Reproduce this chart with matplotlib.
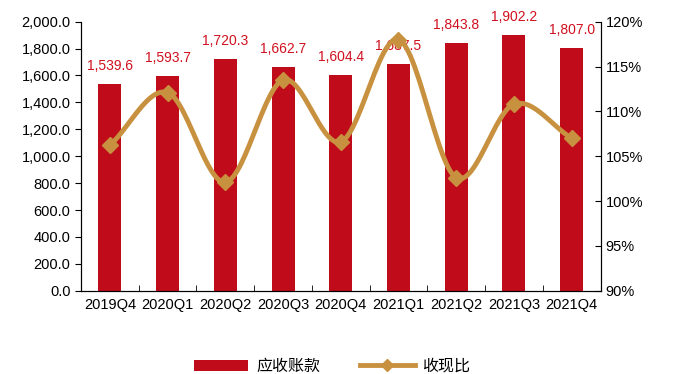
import numpy as np
import matplotlib
matplotlib.use('Agg')
import matplotlib.pyplot as plt
from matplotlib.ticker import FuncFormatter, MultipleLocator

plt.rcParams['font.family'] = ['Liberation Sans', 'Noto Sans CJK SC', 'DejaVu Sans']

quarters = ['2019Q4', '2020Q1', '2020Q2', '2020Q3', '2020Q4',
            '2021Q1', '2021Q2', '2021Q3', '2021Q4']
receivables = [1539.6, 1593.7, 1720.3, 1662.7, 1604.4, 1687.5, 1843.8, 1902.2, 1807.0]
cash_ratio = [106.2, 112.1, 102.1, 113.5, 106.6, 118.0, 102.6, 110.8, 107.0]

bar_color = '#C00C1A'
line_color = '#C8913F'


def smooth(x, y, n=30):
    # catmull-rom curve through the points, like excel's smoothed line
    x = np.asarray(x, float)
    y = np.asarray(y, float)
    px = np.concatenate([[2 * x[0] - x[1]], x, [2 * x[-1] - x[-2]]])
    py = np.concatenate([[2 * y[0] - y[1]], y, [2 * y[-1] - y[-2]]])
    xs, ys = [], []
    t = np.linspace(0, 1, n)
    for i in range(1, len(px) - 2):
        for p, out in ((px, xs), (py, ys)):
            p0, p1, p2, p3 = p[i - 1], p[i], p[i + 1], p[i + 2]
            out.extend(0.5 * (2 * p1 + (-p0 + p2) * t
                              + (2 * p0 - 5 * p1 + 4 * p2 - p3) * t ** 2
                              + (-p0 + 3 * p1 - 3 * p2 + p3) * t ** 3))
    return np.array(xs), np.array(ys)


fig = plt.figure(figsize=(6.74, 3.74), dpi=100)
ax = fig.add_axes([0.1202, 0.2227, 0.7708, 0.7193])
x = np.arange(len(quarters))

ax.bar(x, receivables, width=0.4, color=bar_color, label='应收账款', zorder=2)
for xi, v in zip(x, receivables):
    ax.annotate(format(v, ',.1f'), xy=(xi, v), xytext=(0, 8), textcoords='offset points',
                ha='center', va='bottom', color='#D0101E', fontsize=10, zorder=5,
                annotation_clip=False)

ax.set_ylim(0, 2000)
ax.set_xlim(-0.5, len(quarters) - 0.5)
ax.yaxis.set_major_locator(MultipleLocator(200))
ax.yaxis.set_major_formatter(FuncFormatter(lambda v, p: format(v, ',.1f')))
ax.set_xticks(x)
ax.set_xticklabels(quarters, fontsize=10.5)
ax.set_xticks(np.arange(-0.5, len(quarters), 1), minor=True)
ax.tick_params(axis='x', which='major', length=0, pad=5)
ax.tick_params(axis='x', which='minor', length=4, direction='in')
ax.tick_params(axis='y', labelsize=10.5, length=4, direction='out')
ax.spines['top'].set_visible(False)

ax2 = ax.twinx()
sx, sy = smooth(x, cash_ratio)
ax2.plot(sx, sy, color=line_color, linewidth=3.5, solid_capstyle='round', zorder=3)
ax2.plot(x, cash_ratio, linestyle='none', marker='D', markersize=8,
         color=line_color, zorder=4)
ax2.plot([], [], color=line_color, linewidth=3.5, marker='D', markersize=6, label='收现比')
ax2.set_ylim(90, 120)
ax2.yaxis.set_major_locator(MultipleLocator(5))
ax2.yaxis.set_major_formatter(FuncFormatter(lambda v, p: '%d%%' % v))
ax2.tick_params(axis='y', labelsize=10.5, length=4, direction='in')
ax2.spines['top'].set_visible(False)
ax2.set_xlim(-0.5, len(quarters) - 0.5)

h1, l1 = ax.get_legend_handles_labels()
h2, l2 = ax2.get_legend_handles_labels()
fig.legend(h1 + h2, l1 + l2, loc='center', bbox_to_anchor=(0.493, 0.02), ncol=2,
           frameon=False, fontsize=11.5, handlelength=3.4, columnspacing=2.5,
           handletextpad=0.5)

fig.savefig('out.png', dpi=100)
